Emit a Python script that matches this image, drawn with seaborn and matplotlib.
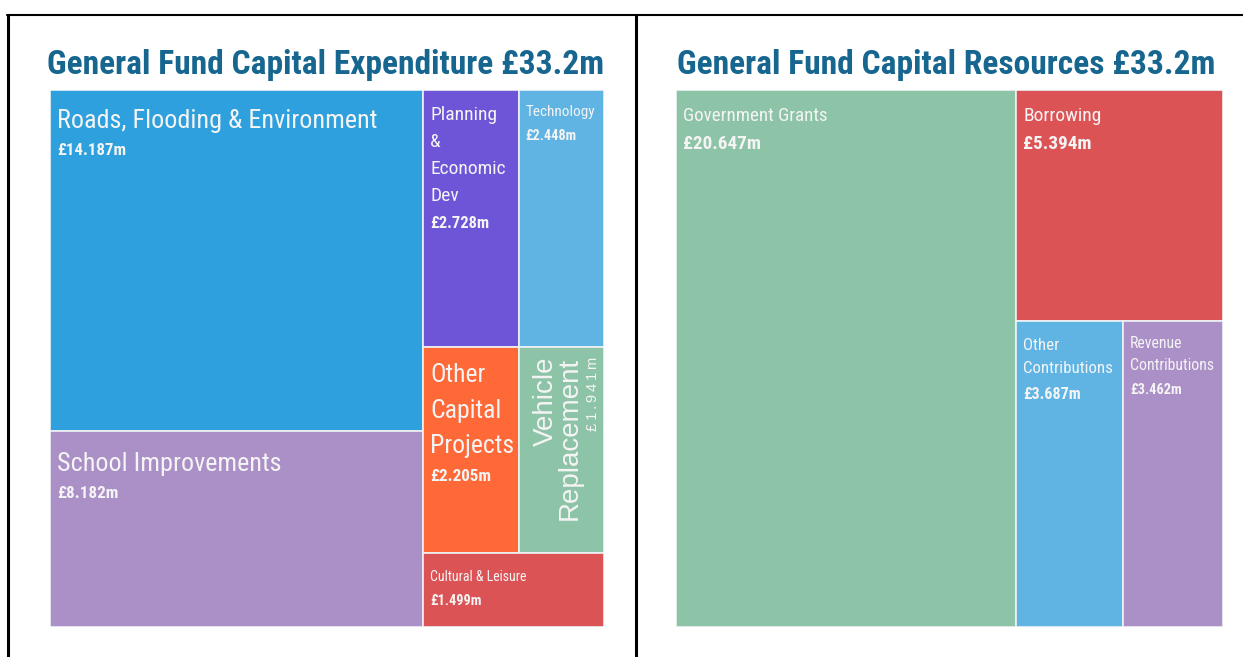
import matplotlib.pyplot as plt
from matplotlib import font_manager
from matplotlib.patches import Rectangle
from matplotlib.lines import Line2D
import seaborn as sns

# Expenditure (£m)
exp_title = "General Fund Capital Expenditure £33.2m"
exp_names = ["Roads, Flooding & Environment", "School Improvements",
             "Planning\n&\nEconomic\nDev", "Technology",
             "Other\nCapital\nProjects", "Vehicle\nReplacement",
             "Cultural & Leisure"]
exp_values = [14.187, 8.182, 2.728, 2.448, 2.205, 1.941, 1.499]
exp_colors = ["#2ea0dd", "#ab90c7", "#6e54d7", "#5fb4e4",
              "#fe6937", "#8dc3a7", "#dc5356"]
# nesting: columns -> rows -> cells
exp_groups = [[0, 1], [[2, 3], [4, 5], 6]]

# Resources (£m)
res_title = "General Fund Capital Resources £33.2m"
res_names = ["Government Grants", "Borrowing",
             "Other\nContributions", "Revenue\nContributions"]
res_values = [20.647, 5.394, 3.687, 3.462]
res_colors = ["#8dc3a7", "#dc5356", "#5fb4e4", "#ab90c7"]
res_groups = [0, [1, [2, 3]]]

sns.set_theme(style="white")
names = {f.name for f in font_manager.fontManager.ttflist}
COND = "Roboto Condensed" if "Roboto Condensed" in names else "Roboto"
plt.rcParams["font.family"] = [COND, "DejaVu Sans"]

TXT = "#f4f4f4"
TITLE_C = "#17668f"
ARIAL = ["Liberation Sans", "DejaVu Sans"]


def total(node, values):
    if isinstance(node, int):
        return values[node]
    return sum(total(n, values) for n in node)


# slice-and-dice through the nesting, alternating direction
def layout(node, values, x, y, w, h, split_x, out):
    if isinstance(node, int):
        out[node] = (x, y, w, h)
        return
    s = total(node, values)
    for child in node:
        f = total(child, values) / s
        if split_x:
            layout(child, values, x, y, w * f, h, False, out)
            x += w * f
        else:
            layout(child, values, x, y, w, h * f, True, out)
            y += h * f


def draw_tree(ax, labels, values, colors, groups, lab_fs, val_fs, base, rot=None):
    rects = {}
    layout(groups, values, 0, 0, 1, 1, True, rects)
    for i in range(len(values)):
        x, y, w, h = rects[i]
        ax.add_patch(Rectangle((x, y), w, h, facecolor=colors[i],
                               edgecolor="#eef2f5", lw=1.2))
        val = "£{:.3f}m".format(values[i])
        if rot is not None and rot[i]:
            lab = ax.annotate(labels[i], (x, y), xytext=(10, -7),
                              textcoords="offset points", ha="left", va="top",
                              rotation=90, multialignment="right",
                              fontsize=lab_fs[i], color=TXT, family=ARIAL,
                              linespacing=0.85)
            ax.annotate("\u2009".join(val), (1, 1), xycoords=lab,
                        xytext=(3, 0), textcoords="offset points",
                        ha="left", va="top", rotation=90,
                        fontsize=val_fs[i], color=TXT, family=ARIAL)
            continue
        # one text per line so the first baseline sits where it should
        pitch = 1.39 * lab_fs[i]
        for k, line in enumerate(labels[i].split("\n")):
            lab = ax.annotate(line, (x, y),
                              xytext=(5, -base[i] * 0.72 - k * pitch),
                              textcoords="offset points", ha="left",
                              va="baseline", fontsize=lab_fs[i], color=TXT)
        ax.annotate(val, (0, 0), xycoords=lab, xytext=(0, -7.5),
                    textcoords="offset points", ha="left", va="top",
                    fontsize=val_fs[i], fontweight="bold", color=TXT)
    ax.set_xlim(0, 1)
    ax.set_ylim(1, 0)
    ax.set_axis_off()


W, H = 1243, 657
fig = plt.figure(figsize=(W / 100, H / 100), dpi=100)

ax1 = fig.add_axes([50 / W, 30 / H, 554 / W, 537 / H])
draw_tree(ax1, exp_names, exp_values, exp_colors, exp_groups,
          [18.8, 18.8, 14, 11, 18.5, 20, 10],
          [12.2, 12.3, 11.9, 10.3, 12.3, 10.5, 10.4],
          [38, 40, 30, 26, 35, 0, 28],
          rot=[0, 0, 0, 0, 0, 1, 0])

ax2 = fig.add_axes([676 / W, 30 / H, 547 / W, 537 / H])
draw_tree(ax2, res_names, res_values, res_colors, res_groups,
          [13.7, 14, 12.2, 11.3], [13.8, 13.8, 11.6, 10.4],
          [31, 31, 29, 27])

fig.text(47 / W, 1 - 74 / H, exp_title, fontsize=24.1, fontweight="bold",
         color=TITLE_C, va="baseline")
fig.text(677 / W, 1 - 74 / H, res_title, fontsize=24.1, fontweight="bold",
         color=TITLE_C, va="baseline")

# table rules around the two panels
for xs, ys, lw in [([7 / W, 1], [1 - 15 / H] * 2, 1.5),
                   ([8 / W] * 2, [1 - 15 / H, 0], 2.2),
                   ([636 / W] * 2, [1 - 15 / H, 0], 2.2)]:
    fig.add_artist(Line2D(xs, ys, transform=fig.transFigure, color="black", lw=lw))

fig.savefig("out.png", dpi=100)
